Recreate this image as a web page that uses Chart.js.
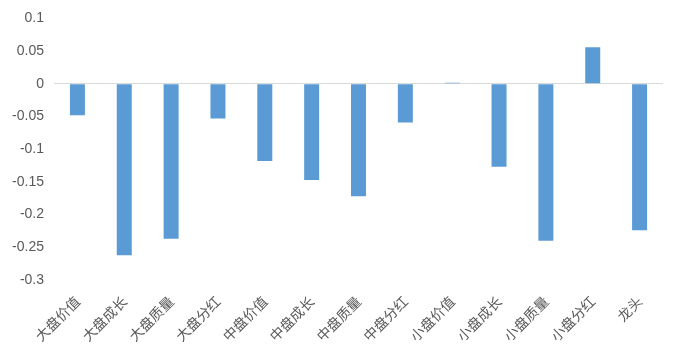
<!DOCTYPE html>
<html lang="zh">
<head>
    <meta charset="UTF-8">
    <title>风格收益</title>
    <script src="https://cdnjs.cloudflare.com/ajax/libs/Chart.js/4.4.0/chart.umd.js"></script>
    <style>
        html, body { margin: 0; padding: 0; background: #fff; }
        #wrap { width: 681px; height: 360px; position: relative; }
    </style>
</head>
<body>
    <div id="wrap">
        <canvas id="chart"></canvas>
    </div>
    <script>
        const categories = ['大盘价值', '大盘成长', '大盘质量', '大盘分红', '中盘价值', '中盘成长', '中盘质量', '中盘分红', '小盘价值', '小盘成长', '小盘质量', '小盘分红', '龙头']
        const values = [-0.048, -0.262, -0.237, -0.053, -0.118, -0.147, -0.172, -0.059, 0.0015, -0.127, -0.240, 0.056, -0.224]
        const yMin = -0.3
        const yMax = 0.1
        const yStep = 0.05

        new Chart(document.getElementById('chart'), {
            type: 'bar',
            data: {
                labels: categories,
                datasets: [{
                    data: values,
                    backgroundColor: '#5b9bd5',
                    barPercentage: 0.32,
                    categoryPercentage: 1,
                }]
            },
            options: {
                responsive: true,
                maintainAspectRatio: false,
                animation: false,
                layout: { padding: { top: 11, right: 18, left: 0, bottom: 0 } },
                plugins: { legend: { display: false }, tooltip: { enabled: false } },
                scales: {
                    x: {
                        grid: { display: false, drawTicks: false },
                        border: { display: false },
                        ticks: {
                            minRotation: 45, maxRotation: 45, padding: 13,
                            color: '#595959',
                            font: { family: '"Noto Sans CJK SC", sans-serif', size: 14 },
                        },
                        afterFit: axis => { axis.height = 80 },
                    },
                    y: {
                        min: yMin, max: yMax,
                        border: { display: false },
                        grid: {
                            drawTicks: false,
                            color: ctx => Math.abs(ctx.tick.value) < 1e-9 ? '#d9d9d9' : 'rgba(0,0,0,0)',
                            lineWidth: 1,
                        },
                        ticks: {
                            stepSize: yStep, padding: 10,
                            color: '#595959',
                            font: { family: '"Liberation Sans", Arial, sans-serif', size: 14 },
                            callback: v => Number(v.toFixed(2)).toString(),
                        },
                        afterFit: axis => { axis.width = 54 },
                    }
                }
            }
        })
    </script>
</body>
</html>
